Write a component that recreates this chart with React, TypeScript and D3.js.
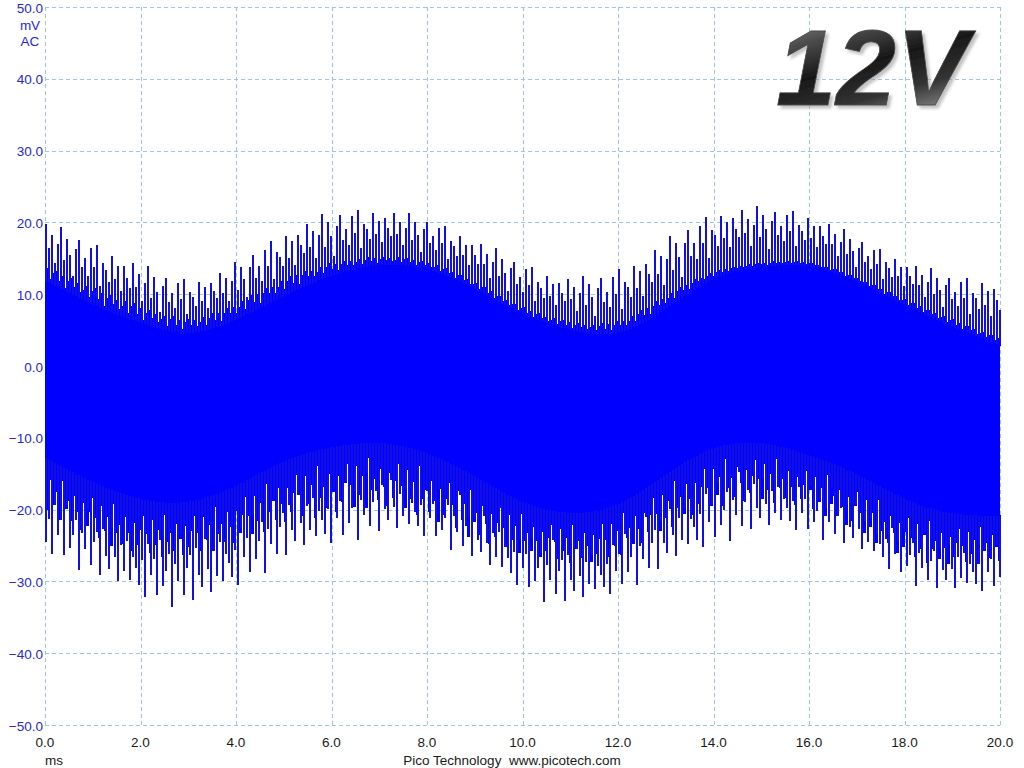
import React from "react";
import * as d3 from "d3";

// ---- data ----
const MS = [0, 1, 2, 3, 4, 5, 6, 7, 8, 9, 10, 11, 12, 13, 14, 15, 16, 17, 18, 19, 20];
const TIP_TOP = [20.5, 17.5, 14.5, 11.5, 14.5, 19.5, 22, 22.5, 21, 18, 14.5, 12, 13.5, 18, 22.5, 22.5, 22, 18, 15, 12.5, 12.5];
const SOLID_TOP = [14, 11, 8.5, 5.8, 8.5, 12.5, 14.5, 15.5, 15, 12, 8, 6, 5.5, 10, 13.5, 14.5, 15, 12.5, 9.5, 6.5, 4];
const INNER_TOP = [12, 8.5, 6, 4, 6.5, 10, 13, 14.5, 14, 11, 7, 5, 4, 8, 13, 14, 14.5, 12, 8.5, 5.5, 3];
const INNER_BOTTOM = [-13, -16.5, -19, -19.5, -17, -13, -11.3, -10.5, -12, -15.5, -19.5, -21, -20, -15, -11, -10.5, -12.5, -15, -19, -21, -21];
const SOLID_BOTTOM = [-21, -25, -27.5, -27.5, -26, -22.5, -22, -20, -22, -25.5, -27, -28.5, -28, -23.5, -20.5, -19.5, -20.5, -24, -28, -28.8, -28];
const TIP_BOTTOM = [-26.5, -29.5, -33, -34.5, -31.5, -27, -25.2, -23.5, -24, -27.5, -32, -34.5, -32, -28.5, -25, -23, -23.5, -26, -30.5, -32.5, -31.5];

// hand-typed texture patterns for the spike heights (fraction of the band)
const TOP_SPIKE_PATTERN = [0.92, 0.55, 0.78, 0.35, 0.68, 0.98, 0.47, 0.83, 0.6, 0.28, 0.74, 0.9, 0.5, 0.66, 0.4, 0.86, 0.58, 0.95, 0.32, 0.71, 0.62, 0.45, 0.88, 0.53, 0.76, 0.38, 0.81, 0.64, 0.5];
const BOTTOM_SPIKE_PATTERN = [0.85, 0.6, 0.95, 0.42, 0.72, 0.55, 0.9, 0.36, 0.8, 0.65, 0.48, 0.99, 0.58, 0.74, 0.3, 0.87, 0.62, 0.5, 0.93, 0.44, 0.7, 0.82, 0.38, 0.67, 0.9, 0.52, 0.77, 0.46, 0.84, 0.6, 0.7];
const TOP_MID_PATTERN = [0.6, 0.9, 0.3, 0.75, 1.0, 0.45, 0.85, 0.2, 0.7, 0.95, 0.5, 0.8, 0.35];
const BOTTOM_MID_PATTERN = [0.55, 0.85, 0.3, 0.7, 0.45, 0.9, 0.2, 0.65, 0.5, 0.8, 0.35, 0.6, 0.88, 0.4, 0.75, 0.5, 0.25];

const X_TICKS = [0, 2, 4, 6, 8, 10, 12, 14, 16, 18, 20];
const Y_TICKS = [50, 40, 30, 20, 10, 0, -10, -20, -30, -40, -50];

const W = 1024;
const H = 768;
const LEFT = 45;
const RIGHT = 1000;
const TOP = 7;
const BOTTOM = 725;

export default function App() {
  const x = d3.scaleLinear().domain([0, 20]).range([LEFT, RIGHT]);
  const y = d3.scaleLinear().domain([-50, 50]).range([BOTTOM, TOP]);

  const env = (arr: number[]) => {
    const f = d3.interpolateBasis(arr);
    return (t: number) => f(Math.max(0, Math.min(1, t / MS[MS.length - 1])));
  };
  const tipTop = env(TIP_TOP);
  const solidTop = env(SOLID_TOP);
  const innerTop = env(INNER_TOP);
  const innerBottom = env(INNER_BOTTOM);
  const solidBottom = env(SOLID_BOTTOM);
  const tipBottom = env(TIP_BOTTOM);

  const fine = d3.range(0, 20.001, 0.05);
  const coreArea = d3
    .area<number>()
    .x((t) => x(t))
    .y0((t) => y(innerBottom(t)))
    .y1((t) => y(innerTop(t)))(fine) as string;

  const step = 3;
  const cols: number[] = d3.range(LEFT, RIGHT + 0.01, step);

  const gridColor = "#9fc6e2";
  const blue = "#0000ff";
  const spikeColor = "#1010e6";

  return (
    <svg
      width={W}
      height={H}
      style={{ position: "absolute", left: 0, top: 0, background: "#fff" }}
      fontFamily="'Liberation Sans', Arial, sans-serif"
    >
      <defs>
        <linearGradient id="metal" x1="0" y1="0" x2="0.45" y2="1">
          <stop offset="0" stopColor="#a0a0a0" />
          <stop offset="0.3" stopColor="#4c4c4c" />
          <stop offset="0.55" stopColor="#181818" />
          <stop offset="0.8" stopColor="#333333" />
          <stop offset="1" stopColor="#808080" />
        </linearGradient>
        <filter id="shadow" x="-10%" y="-10%" width="130%" height="130%">
          <feDropShadow dx="3" dy="3" stdDeviation="1.5" floodColor="#999" floodOpacity="0.6" />
        </filter>
        <clipPath id="plot">
          <rect x={LEFT} y={TOP} width={RIGHT - LEFT + 1} height={BOTTOM - TOP} />
        </clipPath>
      </defs>
      <rect x={0} y={0} width={W} height={H} fill="#fff" />

      {/* grid */}
      <g stroke={gridColor} strokeWidth={1} strokeDasharray="4,3" fill="none">
        {X_TICKS.map((t) => (
          <line key={"gx" + t} x1={Math.round(x(t)) + 0.5} x2={Math.round(x(t)) + 0.5} y1={TOP} y2={BOTTOM} />
        ))}
        {Y_TICKS.map((t) => (
          <line key={"gy" + t} x1={LEFT} x2={RIGHT} y1={Math.round(y(t)) + 0.5} y2={Math.round(y(t)) + 0.5} />
        ))}
      </g>

      {/* 12V label */}
      <text x={776} y={105} fontSize={108} fontWeight="bold" fontStyle="italic" fill="url(#metal)" stroke="#4a4a4a" strokeWidth={0.8} filter="url(#shadow)">
        12V
      </text>

      {/* waveform */}
      <g clipPath="url(#plot)" shapeRendering="crispEdges">
        <path d={coreArea} fill={blue} />
        {cols.map((cx, k) => {
          const t = x.invert(cx);
          const it = innerTop(t);
          const ib = innerBottom(t);
          const mt = it + TOP_MID_PATTERN[k % TOP_MID_PATTERN.length] * (solidTop(t) - it);
          const mb = ib + BOTTOM_MID_PATTERN[k % BOTTOM_MID_PATTERN.length] * (solidBottom(t) - ib);
          const st = it + TOP_SPIKE_PATTERN[k % TOP_SPIKE_PATTERN.length] * (tipTop(t) - it);
          const sb = ib + BOTTOM_SPIKE_PATTERN[k % BOTTOM_SPIKE_PATTERN.length] * (tipBottom(t) - ib);
          return (
            <g key={k}>
              <rect x={cx - 1} width={step} y={y(mt)} height={y(it) - y(mt) + 2} fill={blue} />
              <rect x={cx - 1} width={step} y={y(ib) - 2} height={y(mb) - y(ib) + 2} fill={blue} />
              <rect x={cx} width={2} y={y(st)} height={y(it) - y(st) + 1} fill={spikeColor} />
              <rect x={cx} width={2} y={y(ib) - 1} height={y(sb) - y(ib) + 1} fill={spikeColor} />
            </g>
          );
        })}
      </g>

      {/* y labels */}
      <g fill="#2626e0" fontSize={13.5} textAnchor="end" dominantBaseline="central">
        {Y_TICKS.map((t) => (
          <text key={"yl" + t} x={43} y={y(t) + 1}>
            {d3.format(".1f")(t)}
          </text>
        ))}
      </g>
      <g fill="#2626e0" fontSize={13.5} textAnchor="middle" dominantBaseline="central">
        <text x={30} y={25}>mV</text>
        <text x={30} y={41}>AC</text>
      </g>

      {/* x labels */}
      <g fill="#1a1a1a" fontSize={13.5} textAnchor="middle">
        {X_TICKS.map((t) => (
          <text key={"xl" + t} x={x(t)} y={747}>
            {d3.format(".1f")(t)}
          </text>
        ))}
      </g>
      <text x={54} y={765} fontSize={13.5} fill="#1a1a1a" textAnchor="middle">ms</text>
      <text x={512} y={765} fontSize={13.5} fill="#1a1a1a" textAnchor="middle" style={{ whiteSpace: "pre" }}>
        {"Pico Technology  www.picotech.com"}
      </text>
    </svg>
  );
}
